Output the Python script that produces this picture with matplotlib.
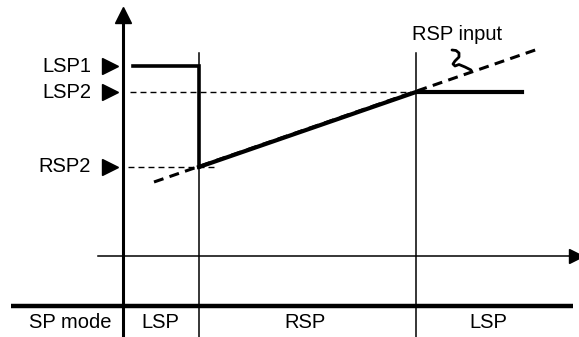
import numpy as np
import matplotlib
matplotlib.use('Agg')
from matplotlib import pyplot as plt

plt.rcParams['font.family'] = ['Liberation Sans', 'DejaVu Sans']
plt.rcParams['lines.scale_dashes'] = False

# setpoint levels (arbitrary units, x axis = 0)
level_names = ['LSP1', 'LSP2', 'RSP2']
level_values = [19.0, 16.4, 8.9]

# switching instants of the SP mode
t_switch = [7.6, 29.3]

# resulting setpoint
lsp1_t = [1.0, 7.6, 7.6]
lsp1_y = [19.0, 19.0, 8.9]
sp_t = [7.6, 29.3, 39.9]
sp_y = [8.9, 16.4, 16.4]

# remote setpoint input signal
rsp_t = [3.1, 41.8]
rsp_y = [7.4, 20.8]

# guide lines to the levels
lsp2_guide_t = [0.7, 29.3]
rsp2_guide_t = [0.5, 9.5]

# SP mode band
mode_labels = ['SP mode', 'LSP', 'RSP', 'LSP']
mode_pos = [-5.3, 3.7, 18.2, 36.5]

# little leader mark next to "RSP input"
lead_t = [32.9, 33.3, 33.6, 33.6, 33.2, 33.0, 33.2, 33.6, 34.2, 34.8]
lead_y = [20.6, 20.55, 20.3, 19.9, 19.5, 19.2, 19.0, 19.15, 18.9, 18.6]

fig = plt.figure(figsize=(5.79, 3.37), dpi=100)
ax = fig.add_axes([0, 0, 1, 1])
ax.set_xlim(-12.3, 45.6)
ax.set_ylim(-8.1, 25.6)
ax.axis('off')

# axes
ax.plot([0, 0], [-8.1, 23.5], color='black', lw=2.2, solid_capstyle='butt')
ax.plot(0, 24.1, marker='^', ms=11.5, color='black')
ax.plot([-2.5, 45.0], [0, 0], color='black', lw=1.1)
ax.plot(45.3, 0, marker='>', ms=10, color='black')

# mode switch lines
for t in t_switch:
    ax.plot([t, t], [-8.1, 20.3], color='black', lw=1.1)

# band separator
ax.plot([-11.2, 45.0], [-5.0, -5.0], color='black', lw=3.2, solid_capstyle='butt')
for lab, x in zip(mode_labels, mode_pos):
    ax.text(x, -6.6, lab, ha='center', va='center', fontsize=14.5)

# level labels
for name, v in zip(level_names, level_values):
    ax.text(-3.2, v, name, ha='right', va='center', fontsize=14.5)
    ax.plot(-1.3, v, marker='>', ms=11, color='black')

# guide lines
ax.plot(lsp2_guide_t, [level_values[1]] * 2, color='black', lw=1.0,
        linestyle=(0, (4.3, 2.9)))
ax.plot(rsp2_guide_t, [level_values[2]] * 2, color='black', lw=1.0,
        linestyle=(0, (4.3, 2.9)))

# RSP input
ax.plot(rsp_t, rsp_y, color='black', lw=2.2, linestyle=(0, (7.2, 4.6)))
ax.plot(lead_t, lead_y, color='black', lw=2.0, solid_capstyle='round',
        solid_joinstyle='round')
ax.text(33.4, 22.2, 'RSP input', ha='center', va='center', fontsize=14.5)

# setpoint
ax.plot(lsp1_t, lsp1_y, color='black', lw=2.6, solid_joinstyle='miter')
ax.plot(sp_t, sp_y, color='black', lw=3.0, solid_joinstyle='miter')

plt.savefig('out.png', dpi=100)
